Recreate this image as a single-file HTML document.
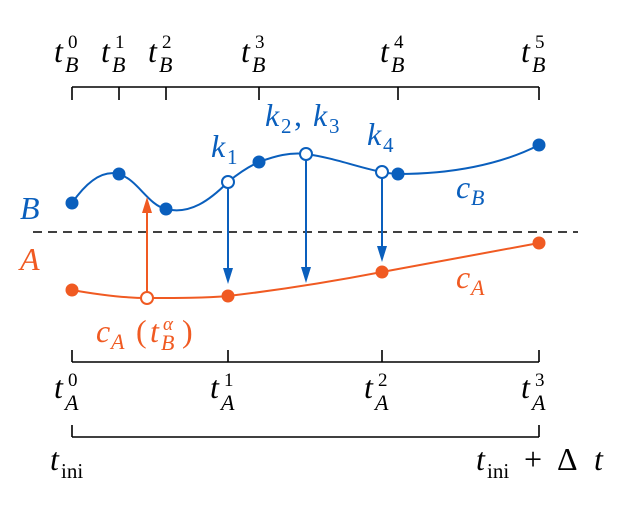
<!DOCTYPE html>
<html><head><meta charset="utf-8"><style>
body{margin:0;background:#fff}
text{font-family:"Liberation Serif",serif;}
.it{font-style:italic}
</style></head><body>
<svg width="625" height="500" viewBox="0 0 625 500" xmlns="http://www.w3.org/2000/svg">
<g stroke="#000" stroke-width="1.6" fill="none">
<path d="M72,87 H539"/>
<path d="M72,87V100M119,87V100M166,87V100M259,87V100M398,87V100M539,87V100"/>
<path d="M72,362 H539"/>
<path d="M72,350V362M228,350V362M382,350V362M539,350V362"/>
<path d="M72,437 H539"/>
<path d="M72,425V437M539,425V437"/>
<path d="M33,232 H578" stroke-dasharray="9,6" stroke-width="1.5"/>
</g>
<g font-size="32" fill="#000">
<text x="54" y="62" class="it">t</text><text x="65" y="72" font-size="22" class="it">B</text><text x="68" y="48" font-size="19">0</text>
<text x="101" y="62" class="it">t</text><text x="112" y="72" font-size="22" class="it">B</text><text x="115" y="48" font-size="19">1</text>
<text x="148" y="62" class="it">t</text><text x="159" y="72" font-size="22" class="it">B</text><text x="162" y="48" font-size="19">2</text>
<text x="241" y="62" class="it">t</text><text x="252" y="72" font-size="22" class="it">B</text><text x="255" y="48" font-size="19">3</text>
<text x="380" y="62" class="it">t</text><text x="391" y="72" font-size="22" class="it">B</text><text x="394" y="48" font-size="19">4</text>
<text x="521" y="62" class="it">t</text><text x="532" y="72" font-size="22" class="it">B</text><text x="535" y="48" font-size="19">5</text>
<text x="54" y="398" class="it">t</text><text x="65" y="410" font-size="22" class="it">A</text><text x="68" y="386" font-size="19">0</text>
<text x="210" y="398" class="it">t</text><text x="221" y="410" font-size="22" class="it">A</text><text x="224" y="386" font-size="19">1</text>
<text x="364" y="398" class="it">t</text><text x="375" y="410" font-size="22" class="it">A</text><text x="378" y="386" font-size="19">2</text>
<text x="521" y="398" class="it">t</text><text x="532" y="410" font-size="22" class="it">A</text><text x="535" y="386" font-size="19">3</text>
<text x="50" y="470" class="it">t</text><text x="61" y="478" font-size="21">ini</text>
<text x="476" y="470" class="it">t</text><text x="487" y="478" font-size="21">ini</text><text x="524" y="470">+</text><text x="557" y="470">Δ</text><text x="594" y="470" class="it">t</text>
</g>
<g fill="#0a5fbd" font-size="32">
<text x="20" y="219" class="it">B</text>
<text x="211" y="157" class="it">k</text><text x="227" y="164" font-size="21">1</text>
<text x="265" y="126" class="it">k</text><text x="281" y="133" font-size="21">2</text><text x="294" y="126">,</text><text x="313" y="126" class="it">k</text><text x="329" y="133" font-size="21">3</text>
<text x="367" y="145" class="it">k</text><text x="383" y="152" font-size="21">4</text>
<text x="456" y="198" class="it">c</text><text x="471" y="205" font-size="22" class="it">B</text>
</g>
<g fill="#f05a22" font-size="32">
<text x="20" y="270" class="it">A</text>
<text x="456" y="288" class="it">c</text><text x="471" y="295" font-size="22" class="it">A</text>
<text x="96" y="342" class="it">c</text><text x="111" y="349" font-size="22" class="it">A</text><text x="136" y="342">(</text><text x="150" y="342" class="it">t</text><text x="161" y="350" font-size="22" class="it">B</text><text x="163" y="330" font-size="19" class="it">α</text><text x="182" y="342">)</text>
</g>
<path d="M72,203 C88,180 104,170 119,174 C138,180 148,205 166,209 C190,215 210,200 228,182 C240,172 250,166 259,162 C275,156 290,152 306,154 C335,158 360,168 382,172 C388,173 393,174 398,174 C450,174 500,165 539,145" fill="none" stroke="#0a5fbd" stroke-width="2"/>
<path d="M72,290 C100,295 125,298 147,298 C180,298 205,298 228,296 C280,290 330,282 382,272 L539,243" fill="none" stroke="#f05a22" stroke-width="2"/>
<g stroke="#0a5fbd" stroke-width="2">
<line x1="228" y1="188" x2="228" y2="272"/>
<line x1="306" y1="160" x2="306" y2="270"/>
<line x1="382" y1="178" x2="382" y2="250"/>
</g>
<g fill="#0a5fbd">
<path d="M223,268 L233,268 L228,284 z"/>
<path d="M301,267 L311,267 L306,283 z"/>
<path d="M377,246 L387,246 L382,262 z"/>
</g>
<line x1="147" y1="292" x2="147" y2="210" stroke="#f05a22" stroke-width="2"/>
<path d="M142,213 L152,213 L147,197 z" fill="#f05a22"/>
<g fill="#0a5fbd">
<circle cx="72" cy="203" r="6.5"/><circle cx="119" cy="174" r="6.5"/><circle cx="166" cy="209" r="6.5"/>
<circle cx="259" cy="162" r="6.5"/><circle cx="398" cy="174" r="6.5"/><circle cx="539" cy="145" r="6.5"/>
</g>
<g fill="#fff" stroke="#0a5fbd" stroke-width="2">
<circle cx="228" cy="182" r="6"/><circle cx="306" cy="154" r="6"/><circle cx="382" cy="172" r="6"/>
</g>
<g fill="#f05a22">
<circle cx="72" cy="290" r="6.5"/><circle cx="228" cy="296" r="6.5"/><circle cx="382" cy="272" r="6.5"/><circle cx="539" cy="243" r="6.5"/>
</g>
<circle cx="147" cy="298" r="6" fill="#fff" stroke="#f05a22" stroke-width="2"/>
</svg>
</body></html>
